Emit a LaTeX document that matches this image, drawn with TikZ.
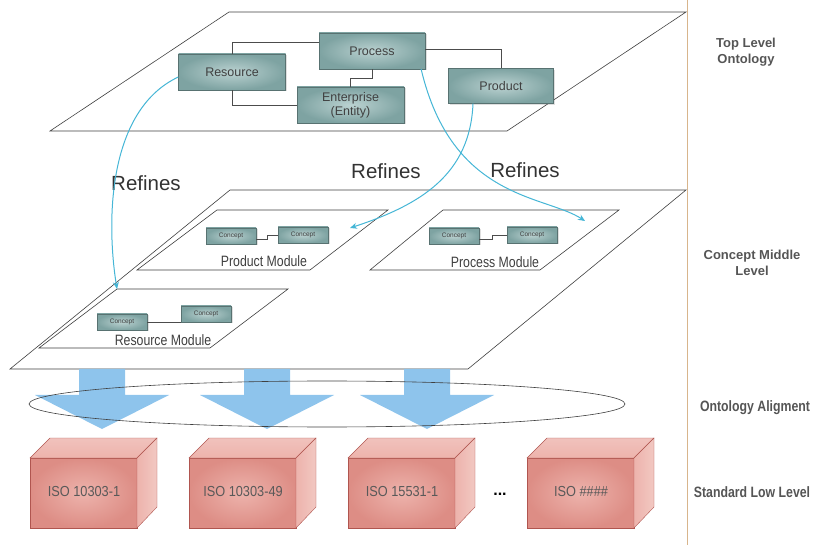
\documentclass[tikz,border=0pt]{standalone}
\usepackage{fontspec}
\setmainfont{Liberation Sans}
\newfontfamily\narrowfont[FakeStretch=0.82]{Liberation Sans}
\newfontfamily\semifont[FakeStretch=0.88]{Liberation Sans}
\usetikzlibrary{positioning,arrows.meta,shadows}

\definecolor{boxin}{HTML}{BBD2D1}
\definecolor{boxout}{HTML}{7EA3A2}
\definecolor{refcol}{HTML}{45B6D6}
\definecolor{bluearrow}{HTML}{8EC4EC}
\definecolor{cubefront}{HTML}{DD8D85}
\definecolor{cubelight}{HTML}{EDB3AC}
\definecolor{cubeside}{HTML}{F2C8C2}
\definecolor{cubeedge}{HTML}{B0554F}
\definecolor{levelline}{HTML}{D8B58C}
\definecolor{leveltext}{HTML}{555555}

\tikzset{
  plane/.style={draw=black!75,fill=white,line width=0.6pt},
  onto/.style={draw=boxout!70!black,line width=0.3pt,inner color=boxin,outer color=boxout,
    text=black!75,font=\fontsize{12.5}{14}\selectfont,align=center,
    drop shadow={opacity=0.25,shadow xshift=1.5pt,shadow yshift=-1.5pt}},
  concept/.style={onto,minimum width=50pt,minimum height=16pt,inner sep=0pt,
    font=\fontsize{6.5}{7}\selectfont},
  link/.style={draw=black!70,line width=0.6pt},
  refines/.style={draw=refcol,line width=1pt,-{Stealth[length=7pt,width=6pt]}},
  modlabel/.style={font=\narrowfont\fontsize{15}{16}\selectfont,text=black!75},
  reflabel/.style={font=\fontsize{20.5}{22}\selectfont,text=black!80},
  levellabel/.style={font=\bfseries\fontsize{13}{16}\selectfont,text=leveltext,align=center},
  lowlabel/.style={font=\narrowfont\bfseries\fontsize{15}{17}\selectfont,text=leveltext},
  isolabel/.style={font=\semifont\fontsize{14.5}{16}\selectfont,text=black!65}
}

\begin{document}
\begin{tikzpicture}[x=1pt,y=-1pt]
  \useasboundingbox (0,0) rectangle (817,545);

  % top level ontology
  \draw[plane] (50,131) -- (229,12) -- (686,12) -- (507,131) -- cycle;
  \node[onto,minimum width=106pt,minimum height=36pt] (proc) at (372,51) {Process};
  \node[onto,minimum width=107pt,minimum height=36pt] (res) at (232,72) {Resource};
  \node[onto,minimum width=107pt,minimum height=36pt,inner sep=1pt] (ent) at (350.5,105) {Enterprise\\(Entity)};
  \node[onto,minimum width=105pt,minimum height=35pt] (prod) at (501,86) {Product};
  \draw[link] (res.north) |- ([yshift=9pt]proc.west);
  \draw[link] (res.south) |- (ent.west);
  \draw[link] (proc.south) -- ++(0,9) -| (ent.north);
  \draw[link] ([yshift=2pt]proc.east) -| (prod.north);

  % concept middle level
  \draw[plane] (10,369) -- (230,190) -- (686,190) -- (468,369) -- cycle;
  \draw[plane] (137,270) -- (217,210) -- (388,210) -- (310,270) -- cycle;
  \draw[plane] (370,270) -- (443,210) -- (619,210) -- (540,270) -- cycle;
  \draw[plane] (39,348) -- (117,289) -- (288,289) -- (210,348) -- cycle;
  \coordinate (rmod) at (117,289);
  \coordinate (pdmod) at (350,228);
  \coordinate (pcmod) at (585,221);

  \node[concept] (pd1) at (231,236) {Concept};
  \node[concept] (pd2) at (303,235) {Concept};
  \node[concept] (pc1) at (454,236) {Concept};
  \node[concept] (pc2) at (532,235) {Concept};
  \node[concept] (rs1) at (122,322) {Concept};
  \node[concept] (rs2) at (206,314) {Concept};
  \draw[link] ([yshift=-3pt]pd1.east) -- ++(11,0) |- (pd2.west);
  \draw[link] ([yshift=-3pt]pc1.east) -- ++(13,0) |- (pc2.west);
  \draw[link] (rs1.east) -- (rs1.east -| rs2.west);

  \node[modlabel] (pdlab) at (264,261) {Product Module};
  \node[modlabel] (pclab) at (495,262) {Process Module};
  \node[modlabel] (rslab) at (163,340) {Resource Module};

  \node[reflabel] (ref1) at (146,183) {Refines};
  \node[reflabel] (ref2) at (386,171) {Refines};
  \node[reflabel] (ref3) at (525,170) {Refines};

  \draw[refines] ([yshift=-5pt]res.west) .. controls (108,110) and (106,220) .. (rmod);
  \draw[refines] ([xshift=-4pt]proc.south east) .. controls (452,200) and (545,195) .. (pcmod);
  \draw[refines] ([xshift=-28pt]prod.south) .. controls (470,175) and (420,205) .. (pdmod);

  % ontology alignment
  \foreach \c/\nm in {102/al1,267/al2,427/al3}
    \fill[bluearrow] ({\c-23},369) -- ({\c+23},369) -- ({\c+23},395) -- ({\c+67},395)
      -- (\c,429) -- ({\c-67},395) -- ({\c-23},395) -- cycle;
  \draw[black!75,line width=0.6pt] (327,404) ellipse (298 and 23);

  % standard low level
  \foreach \x/\nm/\txt in {30/iso1/ISO 10303-1,189/iso2/ISO 10303-49,348/iso3/ISO 15531-1,527/iso4/ISO \#\#\#\#}{
    \draw[cubeedge,line width=0.4pt,inner color=cubelight,outer color=cubefront]
      (\x,458) rectangle ({\x+107},528);
    \draw[cubeedge,line width=0.4pt,top color=cubelight!80!white,bottom color=cubelight]
      (\x,458) -- ({\x+20},438) -- ({\x+127},438) -- ({\x+107},458) -- cycle;
    \draw[cubeedge,line width=0.4pt,left color=cubelight,right color=cubeside]
      ({\x+107},458) -- ({\x+127},438) -- ({\x+127},507) -- ({\x+107},528) -- cycle;
    \node[isolabel] (\nm) at ({\x+54},492) {\txt};
  }
  \node[font=\bfseries\fontsize{16}{16}\selectfont] (dots) at (500,494) {...};

  % levels
  \draw[levelline,line width=0.8pt] (687,0) -- (687,545);
  \node[levellabel] (top) at (746,52) {Top Level\\Ontology};
  \node[levellabel] (mid) at (752,263) {Concept Middle\\Level};
  \node[lowlabel] (align) at (755,408) {Ontology Aligment};
  \node[lowlabel] (low) at (752,492) {Standard Low Level};
\end{tikzpicture}
\end{document}
